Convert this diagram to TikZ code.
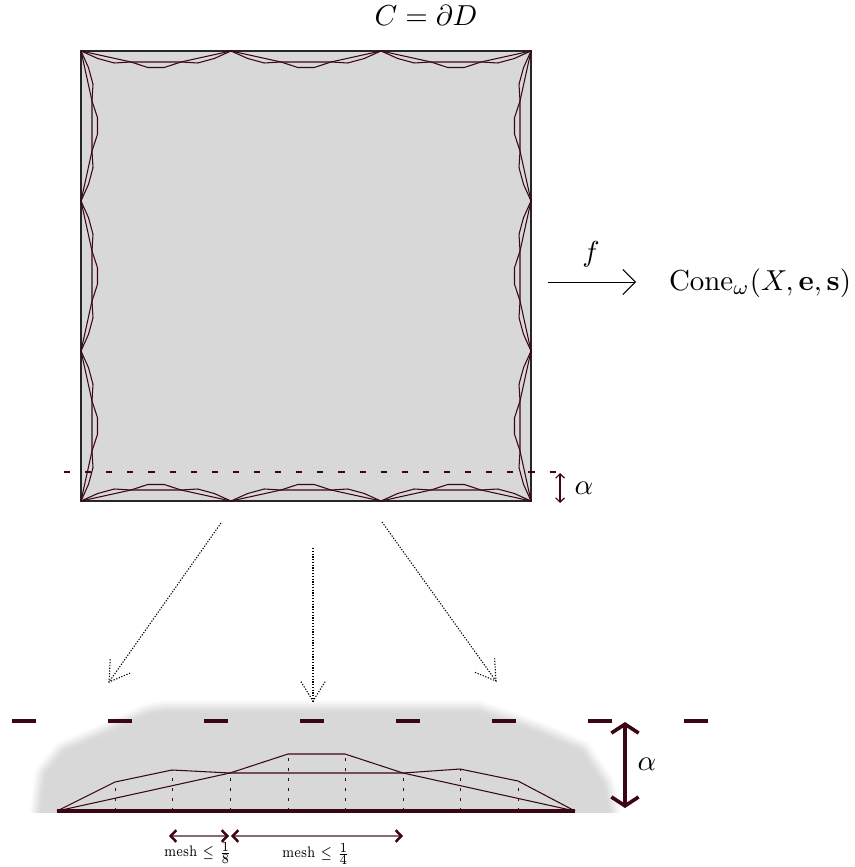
\documentclass[tikz,border=0pt]{standalone}
\usepackage{amsmath,amssymb}
\usetikzlibrary{arrows.meta, calc}

\definecolor{meshcol}{HTML}{3A0612}
\definecolor{diskgray}{HTML}{D8D8D8}

\tikzset{
    meshline/.style={draw=meshcol, line width=0.38pt, line join=round},
    dropline/.style={dash pattern=on 0.45pt off 0.55pt, line width=0.38pt},
    bigtext/.style={scale=1.04, transform shape},
    meshtext/.style={font=\fontsize{5.5}{7}\selectfont, xscale=0.8, transform shape},
    ticktip/.style={{Straight Barb[length=2pt,width=4.2pt,line width=0.9pt,color=meshcol]}-{Straight Barb[length=2pt,width=4.2pt,line width=0.9pt,color=meshcol]}},
}

\begin{document}
\begin{tikzpicture}[x=0.36pt, y=-0.36pt]
        \useasboundingbox (0,0) rectangle (854,867);

        % Hinh vuong D
        \draw[fill=diskgray, draw=black!85, line width=0.5pt] (81,51) rectangle (531,501);

        % Duong gap khuc tren moi canh (150 px moi doan)
        \foreach \sx/\sy/\rot in {81/51/0, 231/51/0, 381/51/0,
                                  531/51/-90, 531/201/-90, 531/351/-90,
                                  531/501/180, 381/501/180, 231/501/180,
                                  81/501/90, 81/351/90, 81/201/90} {
            \begin{scope}[shift={(\sx,\sy)}, rotate=\rot]
                \draw[meshline] (0,0) -- (16.7,7.5) -- (33.3,12) -- (50,11) -- (100,11) -- (116.7,12) -- (133.3,7.5) -- (150,0);
                \draw[meshline] (0,0) -- (50,11) -- (66.7,16.5) -- (83.3,16.5) -- (100,11) -- (150,0);
            \end{scope}
        }

        % Nhan
        \node[bigtext] (title) at (426,15) {$C=\partial D$};
        \node[bigtext] (fname) at (591,254) {$f$};
        \node[bigtext] (cone) at (760,283) {$\mathrm{Cone}_\omega(X,\mathbf{e},\mathbf{s})$};
        \coordinate (fstart) at (548,282);
        \coordinate (fend) at (636,282);
        \draw[-{Straight Barb[length=4.5pt,width=9pt,line width=0.35pt]}, line width=0.35pt] (fstart) -- (fend);

        % Duong alpha tren hinh vuong
        \draw[meshline, dash pattern=on 2.2pt off 5.4pt] (64,472) -- (562,472);
        \coordinate (atop) at (560,473);
        \coordinate (abot) at (560,503);
        \draw[meshline, {Straight Barb[length=1.6pt,width=3.2pt,line width=0.4pt]}-{Straight Barb[length=1.6pt,width=3.2pt,line width=0.4pt]}] (atop) -- (abot);
        \node[bigtext] (alphaone) at (584,488) {$\alpha$};

        % Vung xam mo
        \begin{scope}
            \clip (0,650) rectangle (854,812);
            \foreach \w/\p in {26/5, 24/12, 22/20, 20/29, 18/38, 16/47, 14/56, 12/65, 10/74, 8/82, 6/90, 4/96, 0/100} {
                \filldraw[draw=diskgray!\p!white, fill=diskgray!\p!white, line join=round, line width=\w*0.36pt]
                    (165,713) -- (478,713) -- (535,733) -- (580,752) -- (602,785) -- (612,830)
                    -- (40,830) -- (47,775) -- (65,753) -- (105,736) -- (148,716) -- cycle;
            }
        \end{scope}

        % Ba mui ten cham
        \foreach \name/\xa/\ya/\xb/\yb in {left/221/523/109/682, mid/313/548/313/701, right/382/522/496/681} {
            \coordinate (\name from) at (\xa,\ya);
            \coordinate (\name to) at (\xb,\yb);
            \draw[dropline] (\name from) -- (\name to);
            \draw[dropline] ($(\name to)!8.2pt!32:(\name from)$) -- (\name to) -- ($(\name to)!8.2pt!-32:(\name from)$);
        }

        % Duong alpha lon
        \draw[meshcol, line width=1.1pt, dash pattern=on 8.64pt off 25.92pt] (12,721) -- (708,721);
        \coordinate (btop) at (625,722);
        \coordinate (bbot) at (625,808);
        \draw[meshcol, line width=1.1pt, {Straight Barb[length=3.2pt,width=9.8pt,line width=1.3pt]}-{Straight Barb[length=3.2pt,width=9.8pt,line width=1.3pt]}] (btop) -- (bbot);
        \node[bigtext] (alphatwo) at (647,764) {$\alpha$};

        % Hai duong gap khuc phong to
        \draw[meshline] (57,811) -- (115,782) -- (172,770) -- (230,773) -- (403,773) -- (460,769) -- (518,781) -- (575,811);
        \draw[meshline] (57,811) -- (230,773) -- (288,754) -- (345,754) -- (403,773) -- (575,811);
        \draw[meshcol, line width=1.1pt] (57,811) -- (575,811);

        % Cac duong cham doc
        \foreach \px/\py in {115/782, 172/770, 230/773, 288/754, 345/754, 403/773, 460/769, 518/781} {
            \draw[meshcol, line width=0.35pt, dash pattern=on 1pt off 2.6pt] (\px,811) -- (\px,\py);
        }

        % Mesh
        \coordinate (ma) at (169,836);
        \coordinate (mb) at (229,836);
        \coordinate (mc) at (231,836);
        \coordinate (md) at (403,836);
        \draw[meshcol!60!white, line width=0.4pt, ticktip] (ma) -- (mb);
        \draw[meshcol!60!white, line width=0.4pt, ticktip] (mc) -- (md);
        \node[meshtext] (meshone) at (198,853) {mesh $\leq\frac{1}{8}$};
        \node[meshtext] (meshtwo) at (316,854) {mesh $\leq\frac{1}{4}$};
\end{tikzpicture}
\end{document}
